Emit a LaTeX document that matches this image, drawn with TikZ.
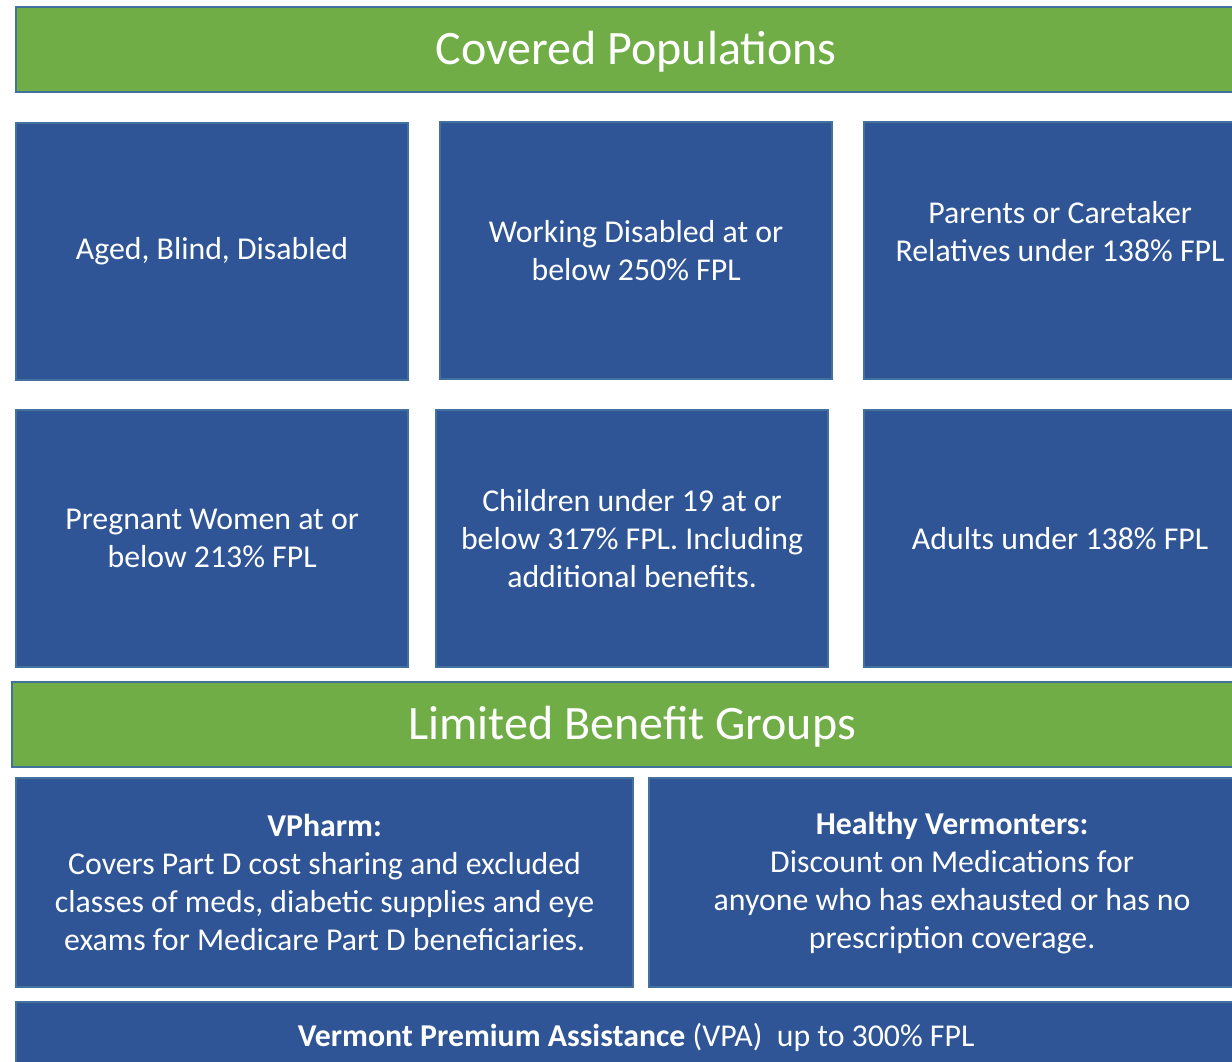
\documentclass[tikz,border=0pt]{standalone}
\usepackage{fontspec}
\setmainfont{Carlito}
\usetikzlibrary{positioning}
\definecolor{hdrgreen}{HTML}{70AD47}
\definecolor{boxblue}{HTML}{2F5597}
\definecolor{edgeblue}{HTML}{41719C}

\begin{document}
\begin{tikzpicture}[x=1pt,y=-1pt,
		hdr/.style={rectangle,draw=edgeblue,line width=2.2pt,fill=hdrgreen,text=white,anchor=north west,
			inner sep=0pt,minimum height=85pt,text height=40pt,text depth=10pt,font=\fontsize{48}{54}\selectfont},
		grp/.style={rectangle,draw=edgeblue,line width=2.2pt,fill=boxblue,text=white,anchor=north west,
			inner sep=0pt,align=center,font=\fontsize{31.8}{38}\selectfont}]
		\useasboundingbox (0,0) rectangle (1232,1062);
		\clip (0,0) rectangle (1232,1062);
		% covered populations
		\node[hdr,minimum width=1240pt] (covered) at (15,6) {Covered Populations};
		\node[grp,minimum width=392pt,minimum height=257pt] (aged)    at (15,122)  {Aged, Blind, Disabled};
		\node[grp,minimum width=392pt,minimum height=257pt] (working) at (439,121) {Working Disabled at or\\below 250\% FPL};
		\node[grp,minimum width=392pt,minimum height=257pt] (parents) at (863,121) {Parents or Caretaker\\Relatives under 138\% FPL\\\mbox{}};
		\node[grp,minimum width=392pt,minimum height=257pt] (pregnant) at (15,409)  {Pregnant Women at or\\below 213\% FPL};
		\node[grp,minimum width=392pt,minimum height=257pt] (children) at (435,409) {Children under 19 at or\\below 317\% FPL. Including\\additional benefits.};
		\node[grp,minimum width=392pt,minimum height=257pt] (adults)   at (863,409) {Adults under 138\% FPL};
		% limited benefit groups
		\node[hdr,minimum width=1240pt] (limited) at (11,681) {Limited Benefit Groups};
		\node[grp,minimum width=617pt,minimum height=209pt] (vpharm)  at (15,777)
			{\textbf{VPharm:}\\Covers Part D cost sharing and excluded\\classes of meds, diabetic supplies and eye\\exams for Medicare Part D beneficiaries.};
		\node[grp,minimum width=606pt,minimum height=209pt] (healthy) at (648,777)
			{\textbf{Healthy Vermonters:}\\Discount on Medications for\\anyone who has exhausted or has no\\prescription coverage.};
		\node[grp,minimum width=1240pt,minimum height=70pt] (vpa) at (15,1001)
			{\textbf{Vermont Premium Assistance} (VPA)\ \ up to 300\% FPL};
\end{tikzpicture}
\end{document}
